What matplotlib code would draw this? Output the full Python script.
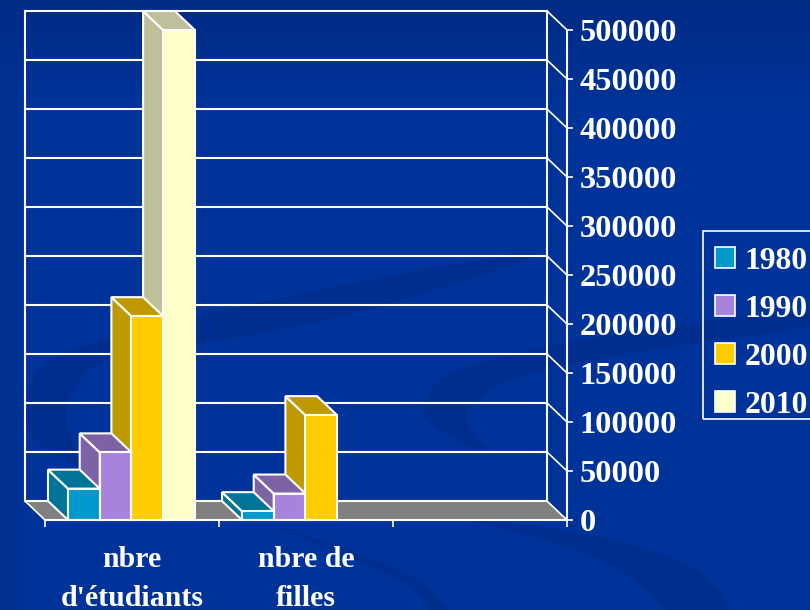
import numpy as np
import matplotlib
matplotlib.use('Agg')
import matplotlib.pyplot as plt
from matplotlib.patches import Polygon, Patch, PathPatch, Rectangle
from matplotlib.path import Path

# Valeurs
categories = ["nbre\nd'étudiants", "nbre de\nfilles", ""]
annees = ['1980', '1990', '2000', '2010']
v1980 = [32000, 9000, 0]
v1990 = [69000, 27000, 0]
v2000 = [208000, 107000, 0]
v2010 = [500000, 0, 0]
yticks = [0, 50000, 100000, 150000, 200000, 250000, 300000, 350000, 400000, 450000, 500000]

series = [v1980, v1990, v2000, v2010]
face = ['#0099CC', '#A883DD', '#FFCC00', '#FFFFCC']
side = ['#007399', '#7E62A6', '#BF9900', '#BFBF99']
blanc = 'white'
bleu = '#003399'

plt.rcParams['font.family'] = ['Liberation Serif', 'DejaVu Serif']
plt.rcParams['font.weight'] = 'bold'

W, H = 810, 610
fig = plt.figure(figsize=(W/100, H/100), dpi=100, facecolor=bleu)

# fond avec les bandes sombres
bg = fig.add_axes([0, 0, 1, 1], zorder=0)
bg.set_xlim(0, W)
bg.set_ylim(H, 0)
bg.axis('off')
base = np.array([0, 0x33, 0x99])/255
sombre = np.array([0, 0x2B, 0x85])/255
ty = np.clip(np.arange(H)/110, 0, 1)[:, None]
tx = np.clip(np.arange(W)/30, 0, 1)[None, :]
t = np.minimum(ty, 0.55+0.45*tx)[:, :, None]
bg.imshow(sombre*(1-t)+base*t, extent=[0, W, H, 0], aspect='auto')


def bande(pts):
    # contour lisse : les points servent de points de controle
    pts = np.array(pts, dtype=float)
    mid = (pts+np.roll(pts, -1, axis=0))/2
    verts = [mid[-1]]
    codes = [Path.MOVETO]
    for i in range(len(pts)):
        verts += [pts[i], mid[i]]
        codes += [Path.CURVE3, Path.CURVE3]
    bg.add_patch(PathPatch(Path(verts, codes), fc='#002E8E', ec='none'))


bande([(570, 245), (420, 270), (267, 300), (110, 337), (40, 360), (20, 410), (30, 440), (90, 475),
       (60, 417), (80, 375), (113, 353), (197, 345), (333, 320), (430, 292)])
bande([(830, 308), (640, 328), (453, 365), (418, 403), (435, 430), (505, 465),
       (468, 433), (468, 405), (507, 377), (640, 350), (830, 326)])
bande([(450, 517), (573, 530), (665, 553), (712, 577), (740, 625), (678, 625), (623, 567), (540, 537)])
bande([(255, 519), (340, 546), (425, 580), (460, 625), (430, 625), (425, 590), (340, 553)])

# axes = plan avant du graphique
gauche, droite, haut_y, bas_y = 45, 567, 30, 520
ax = fig.add_axes([gauche/W, 1-bas_y/H, (droite-gauche)/W, (bas_y-haut_y)/H], zorder=1)
ax.patch.set_alpha(0)
ax.set_xlim(0, 3)
ax.set_ylim(0, 500000)

# profondeur du trace en unites de donnees
dx = 20/174
dy = 19/490*500000
lw = 1.5

# plancher
ax.add_patch(Polygon([(0, 0), (3, 0), (3-dx, dy), (-dx, dy)], closed=True, fc='#808080', ec='none', clip_on=False, zorder=1))

# mur du fond
for v in yticks:
    ax.plot([-dx, 3-dx], [v+dy, v+dy], color=blanc, lw=lw, clip_on=False, zorder=2, solid_capstyle='projecting')
    if v > 0:
        ax.plot([3-dx, 3], [v+dy, v], color=blanc, lw=1.2, clip_on=False, zorder=2)
ax.plot([-dx, -dx], [dy, 500000+dy], color=blanc, lw=lw, clip_on=False, zorder=2)
ax.plot([3-dx, 3-dx], [dy, 500000+dy], color=blanc, lw=lw, clip_on=False, zorder=2)
ax.plot([3-dx, 3], [dy, 0], color=blanc, lw=1.2, clip_on=False, zorder=2)
ax.plot([-dx, 0], [dy, 0], color=blanc, lw=1.2, clip_on=False, zorder=2)

# barres, de droite a gauche pour que les faces se recouvrent bien
largeur = 31.7/174
debut = 23/174
z = 3
for c in range(len(categories)-1, -1, -1):
    for s in range(len(series)-1, -1, -1):
        v = series[s][c]
        if v == 0:
            continue
        x0 = c+debut+s*largeur
        x1 = x0+largeur
        ax.add_patch(Polygon([(x0, 0), (x0, v), (x0-dx, v+dy), (x0-dx, dy)], closed=True, fc=side[s], ec=blanc, lw=lw, clip_on=False, zorder=z))
        ax.add_patch(Polygon([(x0, v), (x1, v), (x1-dx, v+dy), (x0-dx, v+dy)], closed=True, fc=side[s], ec=blanc, lw=lw, clip_on=False, zorder=z))
        ax.add_patch(Polygon([(x0, 0), (x1, 0), (x1, v), (x0, v)], closed=True, fc=face[s], ec=blanc, lw=lw, clip_on=False, zorder=z))
        z += 1

# axes et textes
for n in ['top', 'left']:
    ax.spines[n].set_visible(False)
for n in ['right', 'bottom']:
    ax.spines[n].set_color(blanc)
    ax.spines[n].set_linewidth(lw)
    ax.spines[n].set_zorder(2.5)
ax.yaxis.tick_right()
ax.set_yticks(yticks)
ax.set_yticklabels([str(v) for v in yticks])
ax.tick_params(axis='y', colors=blanc, length=4.5, width=1.2, pad=4.7, labelsize=23.3)
ax.set_xticks([0, 1, 2, 3])
ax.set_xticklabels([])
ax.tick_params(axis='x', which='major', colors=blanc, length=5, width=1.2)
ax.set_xticks([0.5, 1.5, 2.5], minor=True)
ax.set_xticklabels(categories, minor=True, fontsize=21.5, color=blanc, linespacing=1.56)
ax.tick_params(axis='x', which='minor', length=0, pad=18.6)

# cadre de legende : il sort de la figure a droite dans l'original
fig.add_artist(Rectangle((703/W, 1-419/H), 140/W, 188/H, transform=fig.transFigure, fc='none', ec=blanc, lw=1.2, zorder=3))
handles = [Patch(fc=face[i], ec=blanc, lw=1.2) for i in range(4)]
leg = fig.legend(handles, annees, loc='upper left', bbox_to_anchor=(715/W, 1-246.5/H), borderaxespad=0,
                 fontsize=22.8, labelcolor=blanc, frameon=False, handlelength=0.63, handleheight=0.63,
                 handletextpad=0.3, labelspacing=0.6, borderpad=0)
leg.set_zorder(3)

fig.savefig('out.png', dpi=100, facecolor=bleu)
